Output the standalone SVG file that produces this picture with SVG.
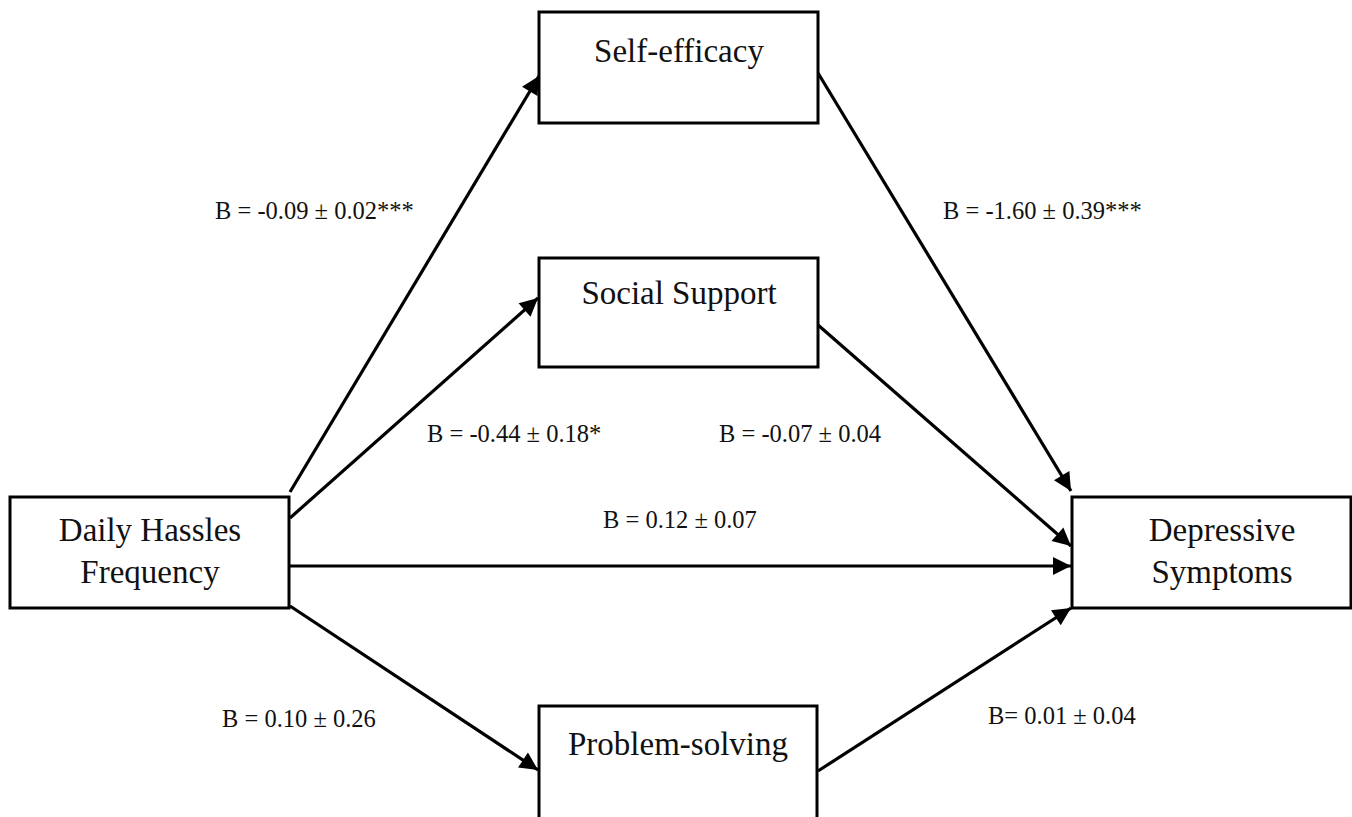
<svg xmlns="http://www.w3.org/2000/svg" width="1352" height="817" viewBox="0 0 1352 817">
<style>
.box{fill:#fff;stroke:#000;stroke-width:3}
.lbl{font-family:"Liberation Serif","Times New Roman",serif;font-size:33px;fill:#111;text-anchor:middle}
.coef{font-family:"Liberation Serif","Times New Roman",serif;font-size:24.5px;fill:#111}
.edge{stroke:#000;stroke-width:3.2;fill:none;marker-end:url(#ah)}
</style>
<defs>
<marker id="ah" viewBox="0 0 10 10" refX="10" refY="5" markerWidth="21" markerHeight="18" markerUnits="userSpaceOnUse" orient="auto">
<path d="M0,0 L10,5 L0,10 z" fill="#000"/>
</marker>
</defs>
<rect width="1352" height="817" fill="#fff"/>
<g id="connectors">
<line class="edge" x1="290" y1="492" x2="539" y2="76"/>
<line class="edge" x1="290" y1="518" x2="538" y2="298"/>
<line class="edge" x1="290" y1="566" x2="1071" y2="566"/>
<line class="edge" x1="290" y1="606" x2="538" y2="770"/>
<line class="edge" x1="818" y1="73" x2="1071" y2="491"/>
<line class="edge" x1="818" y1="325" x2="1071" y2="546"/>
<line class="edge" x1="818" y1="771" x2="1071" y2="608"/>
</g>
<g id="labels">
<text class="coef" x="215" y="219">B = -0.09 ± 0.02***</text>
<text class="coef" x="943" y="219">B = -1.60 ± 0.39***</text>
<text class="coef" x="427" y="442">B = -0.44 ± 0.18*</text>
<text class="coef" x="719" y="442">B = -0.07 ± 0.04</text>
<text class="coef" x="603" y="528">B = 0.12 ± 0.07</text>
<text class="coef" x="222" y="727">B = 0.10 ± 0.26</text>
<text class="coef" x="988" y="724">B= 0.01 ± 0.04</text>
</g>
<g id="self-efficacy">
<rect class="box" x="539" y="12" width="279" height="111"/>
<text class="lbl" x="679" y="62">Self-efficacy</text>
</g>
<g id="social-support">
<rect class="box" x="539" y="258" width="279" height="109"/>
<text class="lbl" x="679" y="304">Social Support</text>
</g>
<g id="problem-solving">
<rect class="box" x="539" y="706" width="278" height="120"/>
<text class="lbl" x="678" y="755">Problem-solving</text>
</g>
<g id="daily-hassles">
<rect class="box" x="10" y="497" width="279" height="111"/>
<text class="lbl" x="150" y="541">Daily Hassles</text>
<text class="lbl" x="150" y="583">Frequency</text>
</g>
<g id="depressive-symptoms">
<rect class="box" x="1072" y="497" width="279" height="111"/>
<text class="lbl" x="1222" y="541">Depressive</text>
<text class="lbl" x="1222" y="583">Symptoms</text>
</g>
</svg>
